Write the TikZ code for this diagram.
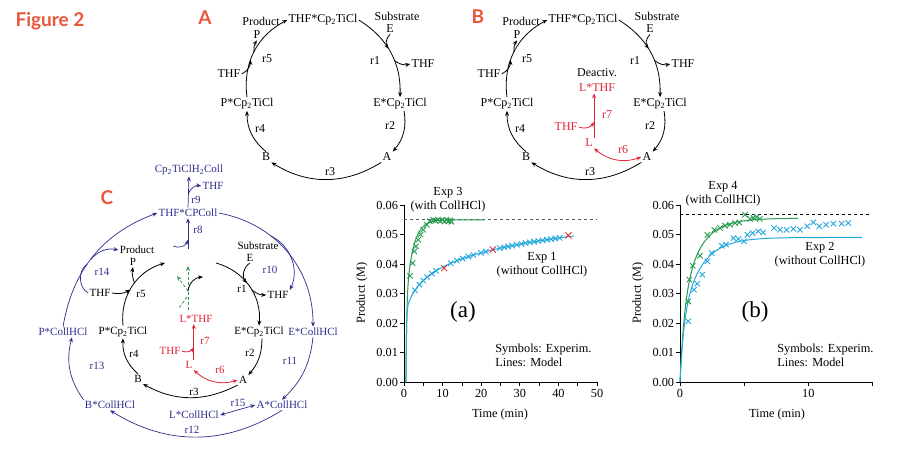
\documentclass[tikz,border=0pt]{standalone}
\usepackage{fontspec}
\setmainfont{Liberation Serif}
\newfontfamily\figfont{Lato}
\usetikzlibrary{arrows.meta}
\definecolor{figred}{RGB}{234,86,58}
\definecolor{navy}{RGB}{46,46,140}
\definecolor{rxred}{RGB}{226,38,54}
\definecolor{grn}{RGB}{40,155,80}
\definecolor{cyn}{RGB}{38,168,222}
\definecolor{xred}{RGB}{222,48,60}
\newcommand{\cpti}{Cp\textsubscript{2}TiCl}
\begin{document}
\begin{tikzpicture}[x=1pt, y=-1pt, line width=0.8pt,
every node/.style={inner sep=1pt, font=\fontsize{12}{13}\selectfont},
arr/.style={arrows={-Stealth[length=5pt,width=4pt]}},
dbl/.style={arrows={Stealth[length=5pt,width=4pt]-Stealth[length=5pt,width=4pt]}},
lred/.style={color=rxred},
cnavy/.style={color=navy},
small/.style={font=\fontsize{11}{12}\selectfont},
panel/.style={font=\figfont\bfseries\fontsize{19}{20}\selectfont, text=figred},
ptxt/.style={font=\fontsize{12.3}{14}\selectfont, align=center},
tlab/.style={font=\fontsize{12.3}{14}\selectfont},
axis/.style={line width=0.8pt},
curve/.style={line width=1pt},
mk/.style={line width=0.9pt},
gdash/.style={color=grn, dash pattern=on 3pt off 2pt}
]
\fill[white] (0,0) rectangle (900,451);
\useasboundingbox (0,0) rectangle (900,451);

\node[panel] (fig) at (50,21) {Figure 2};
\node[panel] (labA) at (205,18) {A};
\node[panel] (labB) at (478,17) {B};
\node[panel] (labC) at (107,198) {C};

% Cycles A and B:
\foreach \p/\dx in {a/0,b/260}{
\begin{scope}[shift={(\dx,0)}]
\node (\p thf) at (323,20) {THF*\cpti};
\node (\p prod) at (261,21) {Product};
\node (\p P) at (257,35) {P};
\node (\p subs) at (397,16) {Substrate};
\node (\p E) at (390,29) {E};
\node (\p thfo) at (423,64) {THF};
\node (\p ecp) at (400,104) {E*\cpti};
\node (\p A) at (387,157) {A};
\node (\p B) at (266,157) {B};
\node (\p pcp) at (247,104) {P*\cpti};
\node (\p thfi) at (229,74) {THF};
\node (\p r1) at (375,61) {r1};
\node (\p r2) at (390,126) {r2};
\node (\p r3) at (330,172) {r3};
\node (\p r4) at (260,129) {r4};
\node (\p r5) at (267,59) {r5};
\draw[arr] (\p thf.east) to[bend left=30] coordinate[pos=.45] (\p j1) coordinate[pos=.6] (\p k1) (\p ecp.north);
\draw[arr] (\p E.south) to[bend right=40] (\p j1);
\draw[arr] (\p k1) to[bend right=25] (\p thfo.west);
\draw[arr] ([xshift=4pt]\p ecp.south) to[bend left=25] (\p A.north east);
\draw[arr] (\p A.south west) to[bend left=32] (\p B.south east);
\draw[arr] (\p B.north) to[bend left=25] (\p pcp.south);
\draw[arr] (\p pcp.north) to[bend left=35] coordinate[pos=.4] (\p j5) coordinate[pos=.5] (\p k5) (\p thf.west);
\draw[arr] (\p thfi.east) to[bend right=30] (\p j5);
\draw[arr] (\p k5) to[bend left=20] (\p P.south);
\end{scope}
}

% Deactivation in B
\node (deact) at (597,73) {Deactiv.};
\node[lred] (bLTHF) at (597,88) {L*THF};
\node[lred] (bL) at (589,143) {L};
\node[lred] (bthf7) at (566,127) {THF};
\node[lred] (br7) at (607,115) {r7};
\node[lred] (br6) at (623,150) {r6};
\draw[lred,arr] (bL.north east) -- coordinate[pos=.35] (bj7) (bL.north east |- bLTHF.south);
\draw[lred,arr] (bthf7.east) to[bend right=40] (bj7);
\draw[lred,dbl] (bL.south east) to[bend right=30] (bA.west);

% Cycle C
\begin{scope}[every node/.append style={small}]
\node (cprod) at (137,250) {Product};
\node (cP) at (133,262) {P};
\node (csubs) at (258,246) {Substrate};
\node (cE) at (250,258) {E};
\node (cthfl) at (100,293) {THF};
\node (cr5) at (141,294) {r5};
\node (cr1) at (242,289) {r1};
\node (cthfr) at (278,295) {THF};
\node (cpcp) at (123,332) {P*\cpti};
\node (cecp) at (259,332) {E*\cpti};
\node (cr4) at (134,354) {r4};
\node (cr2) at (250,353) {r2};
\node (cB) at (138,379) {B};
\node (cA) at (243,380) {A};
\node (cr3) at (194,392) {r3};
\coordinate (ctl) at (165,263);
\coordinate (ctr) at (216,263);
\draw[arr] (cpcp.north) to[bend left=40] coordinate[pos=.45] (cj5) coordinate[pos=.55] (ck5) (ctl);
\draw[arr] (cthfl.east) to[bend right=20] (cj5);
\draw[arr] (ck5) to[bend left=15] (cP.south);
\draw[arr] (ctr) to[bend left=40] coordinate[pos=.45] (cj1) coordinate[pos=.55] (ck1) (cecp.north);
\draw[arr] (cE.south) to[bend right=50] (cj1);
\draw[arr] (ck1) to[bend right=20] (cthfr.west);
\draw[arr] ([xshift=3pt]cecp.south) to[bend left=20] (cA.north east);
\draw[arr] (cA.south west) to[bend left=28] (cB.south east);
\draw[arr] (cB.north) to[bend left=25] (cpcp.south);
% green dashed
\coordinate (g0) at (188,310);
\coordinate (g1) at (188,266);
\coordinate (gj) at (188,291);
\coordinate (g2) at (177,276);
\coordinate (g4) at (187,297);
\coordinate (g3) at (179,308);
\coordinate (gk) at (203,277);
\draw[gdash,arr] (g0) -- (g1);
\draw[gdash,arr] (gj) -- (g2);
\draw[gdash] (g4) -- (g3);
\draw[arr] (gj) to[bend left=40] (gk);
% red
\node[lred] (cLTHF) at (196,319) {L*THF};
\node[lred] (cL) at (189,365) {L};
\node[lred] (cthf7) at (170,351) {THF};
\node[lred] (cr7) at (205,341) {r7};
\node[lred] (cr6) at (220,370) {r6};
\draw[lred,arr] (cL.north east) -- coordinate[pos=.35] (cj7) (cL.north east |- cLTHF.south);
\draw[lred,arr] (cthf7.east) to[bend right=40] (cj7);
\draw[lred,dbl] (cL.south east) to[bend right=30] (cA.west);
% navy
\node[cnavy] (cph) at (189,170) {Cp\textsubscript{2}TiClH\textsubscript{2}Coll};
\node[cnavy] (thfn) at (213,186) {THF};
\node[cnavy] (r9) at (196,200) {r9};
\node[cnavy] (thfc) at (188,213) {THF*CPColl};
\node[cnavy] (r8) at (198,230) {r8};
\node[cnavy] (pcn) at (63,332) {P*CollHCl};
\node[cnavy] (ecn) at (313,332) {E*CollHCl};
\node[cnavy] (bcn) at (110,405) {B*CollHCl};
\node[cnavy] (acn) at (282,405) {A*CollHCl};
\node[cnavy] (lcn) at (194,415) {L*CollHCl};
\node[cnavy] (r10) at (270,270) {r10};
\node[cnavy] (r11) at (290,361) {r11};
\node[cnavy] (r12) at (192,430) {r12};
\node[cnavy] (r13) at (97,366) {r13};
\node[cnavy] (r14) at (102,272) {r14};
\node[cnavy] (r15) at (238,403) {r15};
\coordinate (c8) at (188,249);
\coordinate (c8in) at (173,246);
\begin{scope}[navy, line width=0.7pt]
\draw[arr] (c8) -- coordinate[pos=.3] (j8) (thfc.south);
\draw[arr] (c8in) to[bend right=50] (j8);
\draw[arr] (thfc.north) -- coordinate[pos=.45] (j9) (cph.south);
\draw[arr] (j9) to[bend left=40] (thfn.west);
\draw[arr] (pcn.north) to[bend left=30] coordinate[pos=.43] (cj14) coordinate[pos=.47] (ck14) (thfc.west);
\draw (cthfl.west) to[bend left=60] (cj14);
\draw[arr] (ck14) to[bend left=30] (cprod.west);
\draw[arr] (thfc.east) to[bend left=40] coordinate[pos=.35] (cj10) (ecn.north);
\draw[arr] (cj10) to[bend left=45] (cthfr.north east);
\draw[arr] (ecn.south) to[bend left=20] (acn.north);
\draw[arr] (acn.south) to[bend left=32] (bcn.south);
\draw[arr] (bcn.north west) to[bend left=25] ([xshift=9pt]pcn.south);
\draw[dbl] (lcn.east) -- (acn.west);
\end{scope}
\end{scope}

% Plot (a)
\begin{scope}[shift={(404,382)}, x=3.86pt, y=29.5pt]
\draw[axis] (0,6) -- (0,0) -- (50,0);
\foreach \t in {0,5,...,50} \draw[axis] (\t,0) -- ++(0pt,-4pt);
\foreach \t in {0,10,...,50} \node[tlab, below] at (\t,-0.2) {\t};
\foreach \v in {0,...,6} {
\draw[axis] (0,\v) -- ++(-4pt,0pt);
\node[tlab, left] at (-1.2,\v) {0.0\v};
}
\draw[gray!70!black, dash pattern=on 3pt off 3pt] (0,5.5) -- (50,5.5);
\draw[grn, curve] plot[domain=0.5:21, samples=250] (\x, {5.5*(1-0.5*exp(max(-20,-(\x-0.5)/0.2))-0.5*exp(max(-20,-(\x-0.5)/1.8)))});
\draw[cyn, curve] plot[domain=0.5:44, samples=250] (\x, {2.4*(1-exp(max(-20,-(\x-0.5)/0.12)))+0.75*ln(1+(\x-0.5)/1.5)});
\draw[grn, mk] plot[only marks, mark=x, mark size=3.8pt] coordinates {(1.55,3.6) (2.25,4.03) (2.7,4.43) (3.1,4.6) (3.7,4.82) (4.3,5.0) (5.0,5.16) (5.9,5.33) (6.7,5.45) (7.6,5.5) (8.2,5.47) (8.8,5.5) (9.4,5.45) (10,5.5) (10.5,5.44) (11,5.5) (11.5,5.45) (12,5.48) (12.3,5.43)};
\draw[cyn, mk] plot[only marks, mark=x, mark size=3.8pt, samples at={2.85,4,5,6,7.2,8.3,12.1,13.7,15.2,16.7,18,19.9,21.2,24.8,26,27,28,29.2,30.4,31.5,32.6,33.7,34.8,35.9,37,38.1,39.2,40.3}] (\x, {2.4+0.75*ln(1+(\x-0.5)/1.5)});
\draw[xred, mk] plot[only marks, mark=x, mark size=4.3pt] coordinates {(10.4,3.86) (23,4.49) (42.6,4.97)};
\end{scope}
\node[ptxt] (exp3) at (448,200) {Exp 3\\(with CollHCl)};
\node[ptxt] (exp1) at (542,265) {Exp 1\\(without CollHCl)};
\node[ptxt, align=left, anchor=west] (syma) at (494,355) {Symbols: Experim.\\Lines: Model};
\node[font=\fontsize{23}{24}\selectfont] (pa) at (463,312) {(a)};
\node[tlab, rotate=90] (ya) at (362,293) {Product (M)};
\node[tlab] (xa) at (500,415) {Time (min)};

% Plot (b)
\begin{scope}[shift={(680,382)}, x=12.83pt, y=29.5pt]
\draw[axis] (0,6) -- (0,0) -- (15,0);
\foreach \t in {0,5,10,15} \draw[axis] (\t,0) -- ++(0pt,-4pt);
\foreach \t in {0,10} \node[tlab, below] at (\t,-0.2) {\t};
\foreach \v in {0,...,6} {
\draw[axis] (0,\v) -- ++(-4pt,0pt);
\node[tlab, left] at (-0.35,\v) {0.0\v};
}
\draw[black, dash pattern=on 3pt off 3pt] (0,5.69) -- (14.8,5.69);
\draw[grn, curve] plot[domain=0:9.2, samples=200] (\x, {5.55*(1-0.45*exp(max(-20,-\x/0.35))-0.55*exp(max(-20,-\x/1.4)))});
\draw[cyn, curve] plot[domain=0:14.2, samples=200] (\x, {4.9*(1-0.4*exp(max(-20,-\x/0.3))-0.6*exp(max(-20,-\x/1.5)))});
\draw[grn, mk] plot[only marks, mark=x, mark size=3.8pt] coordinates {(0.65,2.73) (0.73,3.47) (0.99,3.94) (1.56,4.28) (2.13,4.99) (2.68,5.16) (3.12,5.22) (3.51,5.3) (3.9,5.33) (4.29,5.39) (4.62,5.41) (5.07,5.67) (5.46,5.53) (5.72,5.56) (5.97,5.59) (6.23,5.53)};
\draw[cyn, mk] plot[only marks, mark=x, mark size=3.8pt] coordinates {(0.65,2.06) (1.09,3.13) (1.35,3.33) (1.74,3.64) (2.13,4.09) (2.47,4.37) (3.25,4.62) (3.59,4.66) (4.16,4.88) (4.55,4.85) (4.99,4.77) (5.25,4.99) (5.66,5.05) (6.1,5.11) (6.49,5.07) (7.33,5.22) (7.79,5.16) (8.31,5.16) (8.83,5.19) (9.35,5.16) (9.92,5.28) (10.39,5.41) (10.86,5.28) (11.38,5.33) (11.95,5.37) (12.6,5.37) (13.12,5.39)};
\end{scope}
\node[ptxt] (exp4) at (723,194) {Exp 4\\(with CollHCl)};
\node[ptxt] (exp2) at (820,255) {Exp 2\\(without CollHCl)};
\node[ptxt, align=left, anchor=west] (symb) at (776,355) {Symbols: Experim.\\Lines: Model};
\node[font=\fontsize{23}{24}\selectfont] (pb) at (755,312) {(b)};
\node[tlab, rotate=90] (yb) at (638,293) {Product (M)};
\node[tlab] (xb) at (777,415) {Time (min)};
\end{tikzpicture}
\end{document}
